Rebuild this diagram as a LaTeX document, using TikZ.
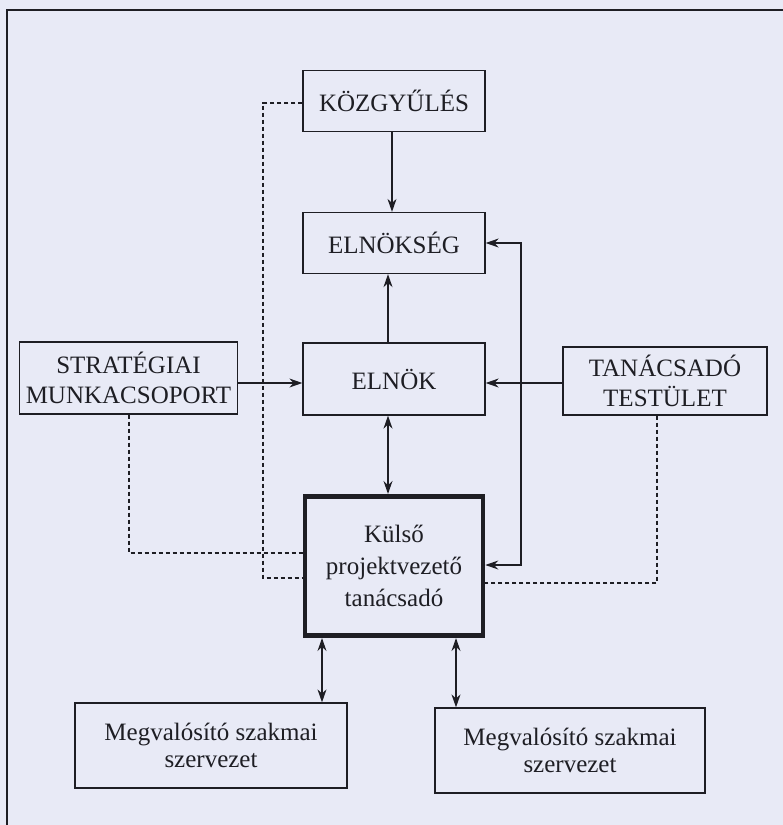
\documentclass[tikz,border=0pt]{standalone}
\usepackage{fontspec}
\setmainfont{Liberation Serif}
\usetikzlibrary{arrows.meta}
\definecolor{paper}{RGB}{232,234,246}
\definecolor{ink}{RGB}{30,30,36}
\tikzset{
  box/.style={draw=ink, line width=1.3pt, rectangle, inner sep=0pt, align=center,
    font=\fontsize{25}{30}\selectfont, text=ink},
  thickbox/.style={box, line width=4.6pt},
  arr/.style={draw=ink, line width=1.3pt, -{Stealth[length=13pt,width=9pt]}},
  darr/.style={draw=ink, line width=1.3pt, {Stealth[length=13pt,width=9pt]}-{Stealth[length=13pt,width=9pt]}},
  dline/.style={draw=ink, line width=1.3pt, dash pattern=on 4.5pt off 2.5pt},
}
\begin{document}
\begin{tikzpicture}[x=1pt,y=-1pt]
\fill[paper] (0,0) rectangle (783,825);
\useasboundingbox (0,0) rectangle (783,825);
\draw[ink, line width=1.6pt] (7,825) -- (7,10) -- (783,10);

\node[box, minimum width=182pt, minimum height=61pt] (kozgy) at (394,101) {KÖZGYŰLÉS};
\node[box, minimum width=182pt, minimum height=61pt] (elnokseg) at (394,243) {ELNÖKSÉG};
\node[box, minimum width=218pt, minimum height=72pt] (strat) at (128.5,378) {STRATÉGIAI\\MUNKACSOPORT};
\node[box, minimum width=182pt, minimum height=72pt] (elnok) at (394,379) {ELNÖK};
\node[box, minimum width=204pt, minimum height=68pt] (tanacs) at (665,381) {TANÁCSADÓ\\TESTÜLET};
\node[thickbox, minimum width=178pt, minimum height=139.5pt, font=\fontsize{25}{32}\selectfont] (kulso) at (394,566) {Külső\\projektvezető\\tanácsadó};
\node[box, minimum width=272pt, minimum height=85pt, font=\fontsize{25}{27}\selectfont] (meg1) at (211,745.5) {Megvalósító szakmai\\szervezet};
\node[box, minimum width=270pt, minimum height=85pt, font=\fontsize{25}{27}\selectfont] (meg2) at (570,750.5) {Megvalósító szakmai\\szervezet};

% helper coordinates
\coordinate (xa) at (392,0);
\coordinate (xb) at (388,0);
\coordinate (xr) at (521,0);
\coordinate (xl1) at (322,0);
\coordinate (xl2) at (456,0);
\coordinate (dk) at (263,103);
\coordinate (dkb) at (263,578);
\coordinate (ds) at (129,553);
\coordinate (dt) at (657,583);

% solid arrows
\draw[arr] (kozgy.south -| xa) -- (elnokseg.north -| xa);
\draw[arr] (elnok.north -| xb) -- (elnokseg.south -| xb);
\draw[darr] (elnok.south -| xb) -- (kulso.north -| xb);
\draw[arr] (strat.east |- 0,383) -- (elnok.west |- 0,383);
\draw[arr] (tanacs.west |- 0,383) -- (elnok.east |- 0,383);
\draw[darr] (kulso.south -| xl1) -- (meg1.north -| xl1);
\draw[darr] (kulso.south -| xl2) -- (meg2.north -| xl2);
\draw[darr]
  (elnokseg.east) -- (elnokseg.east -| xr) -- (xr |- 0,565) -- (kulso.east |- 0,565);

% dashed lines
\draw[dline] (kozgy.west |- dk) -- (dk) -- (dkb) -- (kulso.west |- dkb);
\draw[dline] (strat.south -| ds) -- (ds) -- (kulso.west |- ds);
\draw[dline] (tanacs.south -| dt) -- (dt) -- (kulso.east |- dt);
\end{tikzpicture}
\end{document}
